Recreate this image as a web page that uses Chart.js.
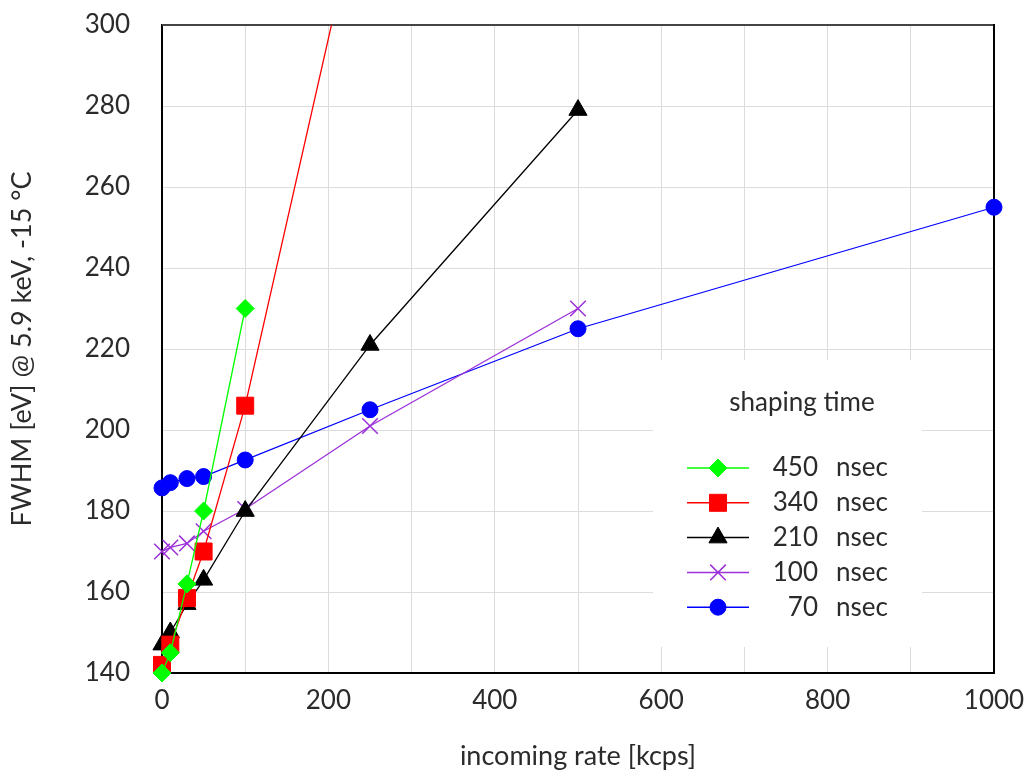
<!DOCTYPE html>
<html>
<head>
<meta charset="utf-8">
<script src="https://cdn.jsdelivr.net/npm/chart.js@4.4.1/dist/chart.umd.min.js"></script>
<style>
  html, body { margin: 0; padding: 0; background: #fff; }
  #wrap { width: 1036px; height: 772px; }
</style>
</head>
<body>
<div id="wrap"><canvas id="chart" width="1036" height="772"></canvas></div>
<script>
// incoming rate [kcps] and FWHM [eV] per shaping time
const rate450 = [0, 10, 30, 50, 100];
const fwhm450 = [140, 145, 162, 180, 230];
const rate340 = [0, 10, 30, 50, 100, 250];
const fwhm340 = [142, 147, 158.5, 170, 206, 342];
const rate210 = [0, 10, 30, 50, 100, 250, 500];
const fwhm210 = [147, 150, 157, 163, 180, 221, 279];
const rate100 = [0, 10, 30, 50, 100, 250, 500];
const fwhm100 = [170, 171, 172, 175, 180.5, 201, 230];
const rate70 = [0, 10, 30, 50, 100, 250, 500, 1000];
const fwhm70 = [185.7, 187, 188, 188.5, 192.6, 205, 225, 255];

const shapingLabels = ['450', '340', '210', '100', '70'];
const xTicks = [0, 200, 400, 600, 800, 1000];
const yTicks = [140, 160, 180, 200, 220, 240, 260, 280, 300];

const FONT = 'Lato, "Noto Sans", sans-serif';
const TEXT = '#2b2b2b';

function pts(xs, ys) {
    return xs.map((x, i) => ({ x: x, y: ys[i] }));
}

function series(label, xs, ys, color, style, radius, fill) {
    return {
        label: label,
        data: pts(xs, ys),
        showLine: true,
        borderColor: color,
        borderWidth: 1.3,
        pointStyle: style,
        pointRadius: radius,
        pointHoverRadius: radius,
        pointBackgroundColor: fill ? color : 'transparent',
        pointBorderColor: color,
        pointBorderWidth: fill ? 1 : 1.5,
        // only the top edge cuts the lines (340 nsec runs off the top)
        clip: { top: 0, left: false, right: false, bottom: false }
    };
}

// frame (top + right) around the plot area
const framePlugin = {
    id: 'frame',
    beforeDatasetsDraw(chart) {
        const { ctx, chartArea: a } = chart;
        ctx.save();
        ctx.lineWidth = 2;
        ctx.strokeStyle = '#444';
        ctx.beginPath();
        ctx.moveTo(a.left, a.top);
        ctx.lineTo(a.right, a.top);
        ctx.stroke();
        ctx.strokeStyle = '#000';
        ctx.beginPath();
        ctx.moveTo(a.right, a.top - 1);
        ctx.lineTo(a.right, a.bottom);
        ctx.stroke();
        ctx.restore();
    }
};

// legend box inside the plot, drawn from the datasets
const legendPlugin = {
    id: 'shapingLegend',
    afterDatasetsDraw(chart) {
        const { ctx } = chart;
        const box = { x: 653, y: 360, w: 269, h: 287 };
        ctx.save();
        ctx.fillStyle = '#fff';
        ctx.fillRect(box.x, box.y, box.w, box.h);

        ctx.fillStyle = TEXT;
        ctx.font = '26px ' + FONT;
        ctx.textBaseline = 'middle';
        ctx.textAlign = 'center';
        ctx.fillText('shaping time', 802, 403);

        chart.data.datasets.forEach((ds, i) => {
            const y = 468 + i * 34.8;
            ctx.strokeStyle = ds.borderColor;
            ctx.lineWidth = 1.5;
            ctx.beginPath();
            ctx.moveTo(687, y);
            ctx.lineTo(749, y);
            ctx.stroke();
            ctx.fillStyle = ds.pointBackgroundColor;
            ctx.strokeStyle = ds.pointBorderColor;
            ctx.lineWidth = ds.pointBorderWidth;
            Chart.helpers.drawPoint(ctx, {
                pointStyle: ds.pointStyle,
                radius: ds.pointRadius,
                borderWidth: ds.pointBorderWidth,
                rotation: 0
            }, 718, y);

            ctx.fillStyle = TEXT;
            ctx.textAlign = 'right';
            ctx.fillText(shapingLabels[i], 818, y);
            ctx.textAlign = 'left';
            ctx.fillText('nsec', 836, y);
        });
        ctx.restore();
    }
};

new Chart(document.getElementById('chart'), {
    type: 'scatter',
    data: {
        datasets: [
            series('450 nsec', rate450, fwhm450, '#00ff00', 'rectRot', 9, true),
            series('340 nsec', rate340, fwhm340, '#ff0000', 'rect', 12, true),
            series('210 nsec', rate210, fwhm210, '#000000', 'triangle', 10.5, true),
            series('100 nsec', rate100, fwhm100, '#9b30d9', 'crossRot', 11, false),
            series('70 nsec', rate70, fwhm70, '#0000ff', 'circle', 8, true)
        ]
    },
    options: {
        responsive: false,
        animation: false,
        layout: { padding: { top: 25, right: 42, left: 0, bottom: 0 } },
        plugins: {
            legend: { display: false },
            tooltip: { enabled: false }
        },
        scales: {
            x: {
                type: 'linear',
                min: 0,
                max: 1000,
                afterFit: s => {
                    s.height = 99;
                    s.paddingLeft = 0;
                    s.paddingRight = 0;
                },
                afterBuildTicks: s => {
                    s.ticks = [];
                    for (let v = 0; v <= 1000; v += 100) s.ticks.push({ value: v });
                },
                ticks: {
                    autoSkip: false,
                    maxRotation: 0,
                    padding: 12,
                    color: TEXT,
                    font: { family: FONT, size: 26 },
                    callback: v => xTicks.includes(v) ? String(v) : ''
                },
                grid: { color: '#dcdcdc', lineWidth: 1, drawTicks: false },
                border: { color: '#000', width: 2 },
                title: {
                    display: true,
                    text: 'incoming rate [kcps]',
                    color: TEXT,
                    font: { family: FONT, size: 27 },
                    padding: { top: 0, bottom: 0 }
                }
            },
            y: {
                min: 140,
                max: 300,
                afterFit: s => {
                    s.width = 162;
                    s.paddingTop = 0;
                    s.paddingBottom = 0;
                },
                afterBuildTicks: s => { s.ticks = yTicks.map(v => ({ value: v })); },
                ticks: {
                    padding: 32,
                    color: TEXT,
                    font: { family: FONT, size: 26 }
                },
                grid: { color: '#dcdcdc', lineWidth: 1, drawTicks: false },
                border: { color: '#000', width: 2 },
                title: {
                    display: true,
                    text: 'FWHM [eV] @ 5.9 keV, -15 °C',
                    color: TEXT,
                    font: { family: FONT, size: 27 },
                    padding: { top: 6, bottom: 0 }
                }
            }
        }
    },
    plugins: [framePlugin, legendPlugin]
});
</script>
</body>
</html>
